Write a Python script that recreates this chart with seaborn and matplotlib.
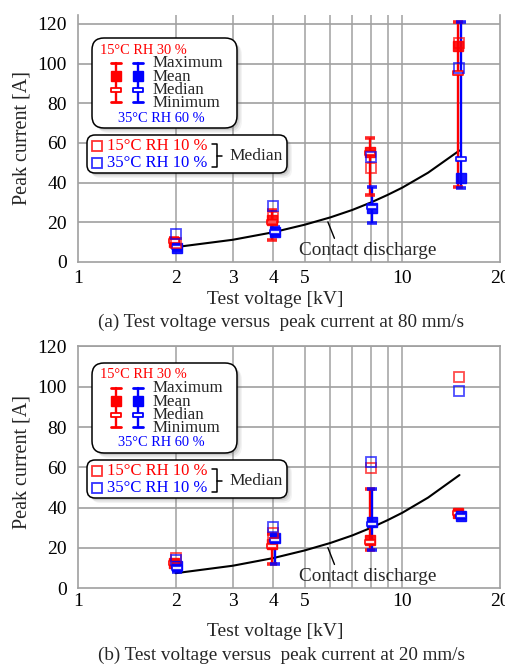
import numpy as np
import pandas as pd
import matplotlib
matplotlib.use("Agg")
import matplotlib.pyplot as plt
import seaborn as sns
import matplotlib.transforms as mtrans
from matplotlib.patches import FancyBboxPatch
from matplotlib.lines import Line2D
from matplotlib.path import Path

# ---------------- data ----------------
voltages = [2, 4, 8, 15]

# (a) 80 mm/s
a_r30_max = [12.0, 26.0, 62.7, 121.2]
a_r30_mean = [10.0, 21.0, 55.6, 108.9]
a_r30_median = [10.5, 20.0, 55.0, 95.1]
a_r30_min = [8.5, 11.1, 33.8, 38.0]
a_b60_max = [8.0, 17.8, 38.0, 121.0]
a_b60_mean = [7.0, 15.3, 27.1, 42.2]
a_b60_median = [7.5, 15.0, 27.5, 51.9]
a_b60_min = [6.0, 13.6, 19.8, 37.2]
a_r10_median = [9.4, 22.8, 47.6, 110.3]
a_b10_median = [14.0, 28.4, 53.1, 97.6]

# (b) 20 mm/s
b_r30_max = [13.5, 27.0, 49.5, 38.5]
b_r30_mean = [12.5, 22.0, 24.0, 37.5]
b_r30_median = [12.5, 21.0, 23.0, 37.5]
b_r30_min = [11.5, 12.0, 19.0, 36.5]
b_b60_max = [12.0, 26.0, 49.5, 37.5]
b_b60_mean = [11.0, 25.0, 33.0, 36.0]
b_b60_median = [10.0, 24.0, 32.0, 36.0]
b_b60_min = [8.0, 12.0, 19.0, 35.0]
b_r10_median = [14.9, 27.5, 59.6, 105.0]
b_b10_median = [14.0, 30.6, 62.5, 98.1]

contact_kv = [2, 3, 4, 5, 6, 7, 8, 9, 10, 12, 15]
contact_a = [7.5, 11.2, 15.0, 18.8, 22.5, 26.2, 30.0, 33.8, 37.5, 45.0, 56.2]

xtick_vals = [1, 2, 3, 4, 5, 10, 20]
xtick_labels = ["1", "2", "3", "4", "5", "10", "20"]
ytick_vals = [0, 20, 40, 60, 80, 100, 120]
grid_kv = [2, 3, 4, 5, 6, 7, 8, 9, 10]

RED = "#ff0000"
BLUE = "#0000ff"

sns.set_theme(style="white")
plt.rcParams["font.family"] = ["Liberation Serif", "DejaVu Serif", "Noto Sans CJK SC"]

W, H = 506, 670
fig = plt.figure(figsize=(W / 100, H / 100), dpi=100)
fig.patch.set_facecolor("white")

# pixel transform (origin top-left)
PX = mtrans.Affine2D().scale(1 / 100, -1 / 100).translate(0, H / 100) + fig.dpi_scale_trans

ax_a = fig.add_axes([78 / W, 1 - 262 / H, 422 / W, 247 / H])
ax_b = fig.add_axes([78 / W, 1 - 588.3 / H, 422 / W, 241.8 / H])

flatbox = Path([(-1, -0.4), (1, -0.4), (1, 0.4), (-1, 0.4), (-1, -0.4)],
               [Path.MOVETO, Path.LINETO, Path.LINETO, Path.LINETO, Path.CLOSEPOLY])


def shifted(ax, dx_pt):
    return ax.transData + mtrans.ScaledTranslation(dx_pt / 72, 0, fig.dpi_scale_trans)


def draw_stats(ax, mx, mn, mean, med, color, dx):
    tr = shifted(ax, dx)
    ax.vlines(voltages, mn, mx, colors=color, lw=1.7, transform=tr, zorder=4)
    for arr in (mx, mn):
        ax.plot(voltages, arr, ls="none", marker="_", ms=7.5, mew=2.6, color=color,
                transform=tr, zorder=5, alpha=0.85)
    ax.plot(voltages, mean, ls="none", marker="s", ms=7, color=color, mec=color,
            transform=tr, zorder=6, alpha=0.9)
    ax.plot(voltages, med, ls="none", marker=flatbox, ms=7.5, mfc="white", mec=color,
            mew=1.3, transform=tr, zorder=6, alpha=0.9)


def setup_axes(ax, ymax, top_spine, tick_pad):
    ax.set_xscale("log")
    ax.set_xlim(1, 20)
    ax.set_ylim(0, ymax)
    ax.set_xticks(xtick_vals)
    ax.set_xticklabels(xtick_labels)
    ax.xaxis.set_minor_locator(matplotlib.ticker.NullLocator())
    ax.set_yticks(ytick_vals)
    ax.tick_params(axis="both", length=0, labelsize=14, colors="black")
    ax.tick_params(axis="x", pad=tick_pad)
    ax.tick_params(axis="y", pad=8)
    for v in grid_kv:
        ax.axvline(v, color="#a8a8a8", lw=1.2, zorder=1)
    for v in ytick_vals[1:]:
        ax.axhline(v, color="#a0a0a0", lw=1.2, zorder=1)
    for s in ["left", "right", "bottom"]:
        ax.spines[s].set_color("#a0a0a0")
        ax.spines[s].set_linewidth(1.2)
    ax.spines["top"].set_visible(top_spine)
    ax.spines["top"].set_color("#a0a0a0")
    ax.set_facecolor("white")
    ax.grid(False)


def draw_panel(ax, stats, r10, b10):
    df = pd.DataFrame({"kv": contact_kv, "amp": contact_a})
    sns.lineplot(data=df, x="kv", y="amp", color="black", lw=1.5, ax=ax, zorder=3)
    (r_mx, r_mean, r_med, r_mn), (b_mx, b_mean, b_med, b_mn) = stats
    draw_stats(ax, r_mx, r_mn, r_mean, r_med, RED, -0.9)
    draw_stats(ax, b_mx, b_mn, b_mean, b_med, BLUE, 0.9)
    for vals, col in ((r10, RED), (b10, BLUE)):
        sns.lineplot(x=voltages, y=vals, ls="", marker="s", markersize=7.5,
                     markerfacecolor="none", markeredgecolor=col, markeredgewidth=1.3,
                     color=col, alpha=0.7, ax=ax, zorder=7)
    ax.annotate("Contact discharge", xy=(5.85, 21.5), xytext=(7.8, 6.0),
                ha="center", va="center", fontsize=13.8,
                arrowprops=dict(arrowstyle="-", color="black", lw=1,
                                shrinkA=0, shrinkB=2, relpos=(0.27, 1.0)),
                zorder=8)
    ax.set_xlabel("")
    ax.set_ylabel("")


setup_axes(ax_a, 124.5, False, 6)
setup_axes(ax_b, 120, True, 3.5)
draw_panel(ax_a, ((a_r30_max, a_r30_mean, a_r30_median, a_r30_min),
                  (a_b60_max, a_b60_mean, a_b60_median, a_b60_min)),
           a_r10_median, a_b10_median)
draw_panel(ax_b, ((b_r30_max, b_r30_mean, b_r30_median, b_r30_min),
                  (b_b60_max, b_b60_mean, b_b60_median, b_b60_min)),
           b_r10_median, b_b10_median)

for ax in (ax_a, ax_b):
    ax.set_xlim(1, 20)


# ------------- labels / captions -------------
def ftext(x, y, s, **kw):
    kw.setdefault("fontsize", 12.5)
    kw.setdefault("ha", "center")
    kw.setdefault("va", "center")
    fig.text(x, y, s, transform=PX, **kw)


for ycen, xl_y, cap_y, cap in ((138, 299, 322, "(a) Test voltage versus  peak current at 80 mm/s"),
                               (462, 632, 655, "(b) Test voltage versus  peak current at 20 mm/s")):
    ftext(22, ycen, "Peak current [A]", rotation=90, fontsize=14.5)
    ftext(275, xl_y, "Test voltage [kV]", fontsize=14)
    ftext(281, cap_y, cap, fontsize=13.8)


# ------------- legend boxes -------------
def rbox(x0, y0, w, h, r):
    for d, a in ((5, 0.07), (3.5, 0.12), (2, 0.18)):
        sh = FancyBboxPatch((x0 + d, y0 + d), w, h, boxstyle=f"round,pad=0,rounding_size={r}",
                            transform=PX, facecolor="#606060", edgecolor="none", alpha=a, zorder=20)
        fig.add_artist(sh)
    bx = FancyBboxPatch((x0, y0), w, h, boxstyle=f"round,pad=0,rounding_size={r}",
                        transform=PX, facecolor="white", edgecolor="black", lw=1.1, zorder=21)
    fig.add_artist(bx)


def pline(xs, ys, **kw):
    fig.add_artist(Line2D(xs, ys, transform=PX, zorder=22, **kw))


def legend(off):
    rbox(92, 38 + off, 145, 90, 12)
    ftext(143, 50 + off, "15°C RH 30 %", color=RED, fontsize=10.4, zorder=23)
    ftext(161, 118 + off, "35°C RH 60 %", color=BLUE, fontsize=10.4, zorder=23)
    for x, col in ((115.5, RED), (137.5, BLUE)):
        pline([x, x], [63 + off, 102 + off], color=col, lw=1.7)
        pline([x - 5, x + 5], [63 + off, 63 + off], color=col, lw=2.0)
        pline([x - 5, x + 5], [102 + off, 102 + off], color=col, lw=2.0)
        pline([x], [76 + off], color=col, marker="s", ms=6.5, ls="none")
        pline([x], [90 + off], color=col, marker=flatbox, ms=7.5, mfc="white", mec=col,
              mew=1.3, ls="none")
    for y, s in ((63, "Maximum"), (77, "Mean"), (90, "Median"), (103, "Minimum")):
        ftext(153, y + off, s, ha="left", fontsize=12.2, zorder=23)

    rbox(87, 135 + off, 200, 38, 8)
    for y, col, s in ((146, RED, "15°C RH 10 %"), (163, BLUE, "35°C RH 10 %")):
        pline([96.5], [y + off], color=col, marker="s", ms=7, mfc="none", mec=col,
              mew=1.3, ls="none", alpha=0.8)
        ftext(107, y + off, s, ha="left", color=col, fontsize=12, zorder=23)
    pline([212, 217, 217, 212], [144 + off, 144 + off, 167 + off, 167 + off], color="black", lw=1.1)
    pline([217, 222], [155.5 + off, 155.5 + off], color="black", lw=1.1)
    ftext(229, 156 + off, "Median", ha="left", fontsize=12.5, zorder=23)


legend(0)
legend(325)

fig.savefig("out.png", dpi=100, facecolor="white")
